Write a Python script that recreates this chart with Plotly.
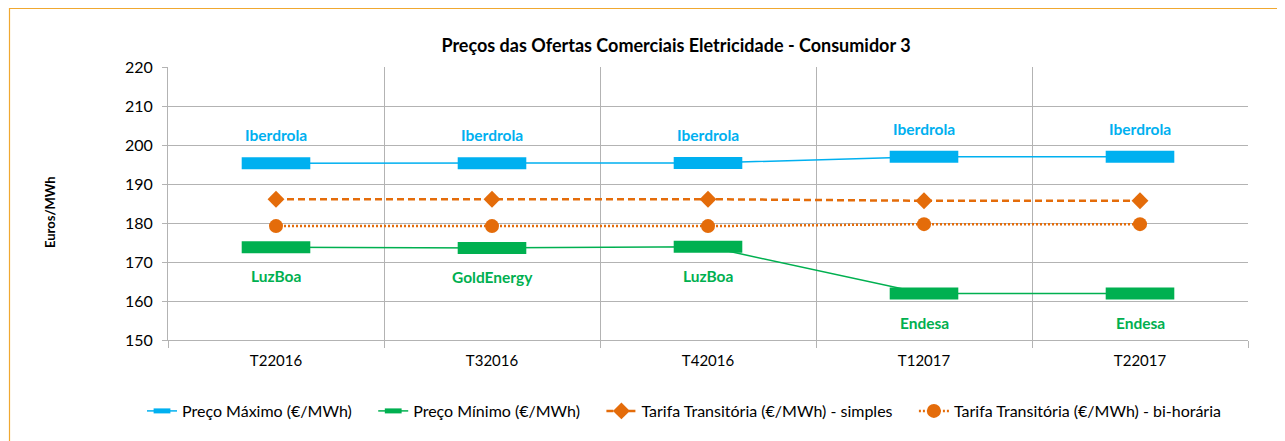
import plotly.graph_objects as go

categories = ["T22016", "T32016", "T42016", "T12017", "T22017"]
preco_max = [195.3, 195.3, 195.4, 197.0, 197.0]
preco_min = [173.8, 173.6, 173.9, 161.9, 161.9]
tarifa_simples = [186.1, 186.1, 186.1, 185.7, 185.7]
tarifa_bi = [179.2, 179.2, 179.2, 179.7, 179.7]
max_labels = ["Iberdrola", "Iberdrola", "Iberdrola", "Iberdrola", "Iberdrola"]
min_labels = ["LuzBoa", "GoldEnergy", "LuzBoa", "Endesa", "Endesa"]
y_ticks = [150, 160, 170, 180, 190, 200, 210, 220]

BLUE = "#00B0F0"
GREEN = "#00B050"
ORANGE = "#E46C0A"
GRID = "#B3B3B3"
FONT = "Lato"
PAD = "\u00a0" * 4  # spacing after legend entries

# page has an 8px body margin; work in reference pixel coords minus offset
OFF = 8
W, H = 1285 - OFF, 441 - OFF
L = 168 - OFF
T = 67 - OFF
R = W - (1248 - OFF)
B = H - (340 - OFF)
pw, ph = W - L - R, H - T - B

def px(xp):
    return (xp - OFF - L) / pw

def py(yp):
    return (H - B - (yp - OFF)) / ph

fig = go.Figure()

# legend-bearing traces (line + small marker)
fig.add_trace(go.Scatter(
    x=categories, y=preco_max, mode="lines+markers", name="Preço Máximo (€/MWh)" + PAD,
    line=dict(color=BLUE, width=1.5),
    marker=dict(symbol="line-ew", size=12, color=BLUE, line=dict(color=BLUE, width=5)),
))
fig.add_trace(go.Scatter(
    x=categories, y=preco_min, mode="lines+markers", name="Preço Mínimo (€/MWh)" + PAD,
    line=dict(color=GREEN, width=1.5),
    marker=dict(symbol="line-ew", size=12, color=GREEN, line=dict(color=GREEN, width=5)),
))
fig.add_trace(go.Scatter(
    x=categories, y=tarifa_simples, mode="lines+markers",
    name="Tarifa Transitória (€/MWh) - simples" + PAD,
    line=dict(color=ORANGE, width=2.5, dash="7px,4px"),
    marker=dict(symbol="diamond", size=13, color=ORANGE),
))
fig.add_trace(go.Scatter(
    x=categories, y=tarifa_bi, mode="lines+markers",
    name="Tarifa Transitória (€/MWh) - bi-horária",
    line=dict(color=ORANGE, width=2.5, dash="2px,2px"),
    marker=dict(symbol="circle", size=14, color=ORANGE),
))
# large bar-shaped markers on the plot
fig.add_trace(go.Scatter(
    x=categories, y=preco_max, mode="markers", showlegend=False, hoverinfo="skip",
    marker=dict(symbol="line-ew", size=49, color=BLUE, line=dict(color=BLUE, width=12)),
))
fig.add_trace(go.Scatter(
    x=categories, y=preco_min, mode="markers", showlegend=False, hoverinfo="skip",
    marker=dict(symbol="line-ew", size=49, color=GREEN, line=dict(color=GREEN, width=12)),
))

annotations = []
for c, v, t in zip(categories, preco_max, max_labels):
    annotations.append(dict(x=c, y=v, xref="x", yref="y", text=f"<b>{t}</b>",
                            showarrow=False, yshift=28,
                            font=dict(family=FONT, size=15.5, color=BLUE)))
for c, v, t in zip(categories, preco_min, min_labels):
    annotations.append(dict(x=c, y=v, xref="x", yref="y", text=f"<b>{t}</b>",
                            showarrow=False, yshift=-29,
                            font=dict(family=FONT, size=15.5, color=GREEN)))
annotations.append(dict(x=px(50), y=py(212), xref="paper", yref="paper",
                        xanchor="center", yanchor="middle",
                        text="<b>Euros/MWh</b>", textangle=-90, showarrow=False,
                        font=dict(family=FONT, size=13, color="#000000")))

shapes = [dict(type="rect", xref="paper", yref="paper",
               x0=px(9.5), x1=px(1300), y0=py(460), y1=py(8.5),
               line=dict(color="#F0A830", width=1.2), fillcolor="rgba(0,0,0,0)",
               layer="below")]

fig.update_layout(
    width=W, height=H,
    margin=dict(l=L, r=R, t=T, b=B),
    paper_bgcolor="white", plot_bgcolor="white",
    font=dict(family=FONT, size=15, color="#000000"),
    title=dict(text="<b>Preços das Ofertas Comerciais Eletricidade - Consumidor 3</b>",
               xref="container", x=(676 - OFF) / W, xanchor="center",
               y=1 - (46 - OFF) / H, yanchor="middle",
               font=dict(family=FONT, size=18, color="#000000")),
    showlegend=True,
    legend=dict(orientation="h", x=px(684), xanchor="center", y=py(411), yanchor="middle",
                font=dict(family=FONT, size=16, color="#000000"),
                itemwidth=30, tracegroupgap=0, bgcolor="rgba(0,0,0,0)"),
    annotations=annotations,
    shapes=shapes,
)
fig.update_xaxes(
    type="category", tickson="boundaries", showgrid=True, gridcolor=GRID, gridwidth=1,
    ticks="outside", ticklen=7, tickcolor=GRID, showline=True, linecolor=GRID,
    mirror=False, tickfont=dict(family=FONT, size=15), range=[-0.5, 4.5],
    ticklabelstandoff=7,
)
fig.update_yaxes(
    range=[150, 220], tickvals=y_ticks, showgrid=True, gridcolor=GRID, gridwidth=1,
    ticks="outside", ticklen=5, tickcolor=GRID, showline=True, linecolor=GRID,
    zeroline=False, tickfont=dict(family=FONT, size=16), ticklabelstandoff=6,
)

fig.write_html("out.html")
